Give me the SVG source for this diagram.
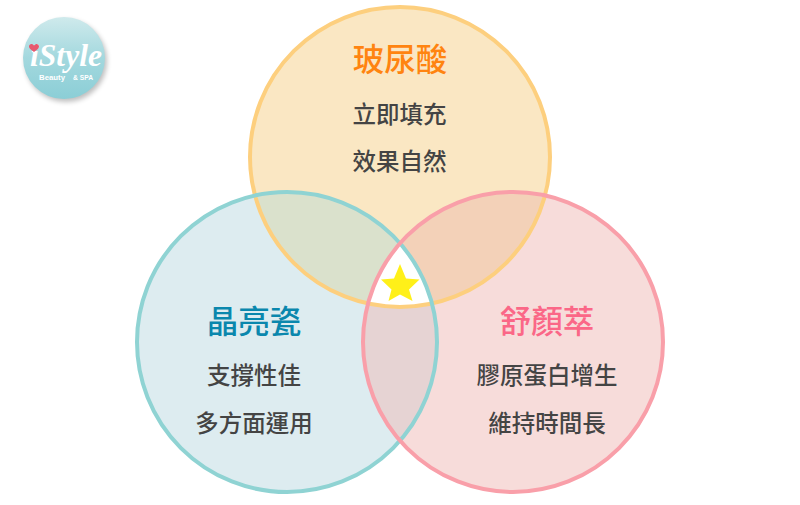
<svg xmlns="http://www.w3.org/2000/svg" width="800" height="505" viewBox="0 0 800 505">
<style>
text{font-family:"Noto Sans CJK TC","Noto Sans CJK SC",sans-serif;text-anchor:middle;font-weight:500}
.t{font-size:31.500px}
.b{font-size:23.500px;fill:#444}
.ring{fill:none;stroke-width:4}
.logo-s{font-family:"Liberation Sans",sans-serif;font-weight:bold;fill:#fff}
</style>
<defs>
<circle id="cT" cx="400" cy="157" r="150"/>
<circle id="cL" cx="287" cy="342" r="150"/>
<circle id="cR" cx="513" cy="342" r="150"/>
<clipPath id="inT"><use href="#cT"/></clipPath>
<clipPath id="inL"><use href="#cL"/></clipPath>
<linearGradient id="lg" x1="0" y1="0" x2="0" y2="1">
<stop offset="0" stop-color="#cfeaec"/><stop offset="0.5" stop-color="#a3d8de"/><stop offset="1" stop-color="#8bced6"/>
</linearGradient>
<filter id="sh" x="-20%" y="-20%" width="150%" height="150%"><feGaussianBlur stdDeviation="2.500"/></filter>
</defs>
<rect width="800" height="505" fill="#fff"/>
<g id="venn-fills">
<use href="#cT" fill="#fae7c3"/>
<use href="#cL" fill="#ddecf0"/>
<use href="#cR" fill="#f7dcda"/>
<g clip-path="url(#inT)"><use href="#cL" fill="#dae1cc"/><use href="#cR" fill="#f3d1b8"/></g>
<g clip-path="url(#inL)"><use href="#cR" fill="#e6d3d3"/></g>
<g clip-path="url(#inT)"><g clip-path="url(#inL)"><use href="#cR" fill="#fff"/></g></g>
</g>
<g id="node-hyaluronic">
<use href="#cT" class="ring" stroke="#fdcf7e"/>
<text class="t" x="400" y="71" fill="#ff8410">玻尿酸</text>
<text class="b" x="399.500" y="123">立即填充</text>
<text class="b" x="399.500" y="170">效果自然</text>
</g>
<g id="node-porcelain">
<use href="#cL" class="ring" stroke="#8fd3d3"/>
<text class="t" x="254" y="333" fill="#0a87ad">晶亮瓷</text>
<text class="b" x="254" y="384">支撐性佳</text>
<text class="b" x="254" y="432">多方面運用</text>
</g>
<g id="node-sculptra">
<use href="#cR" class="ring" stroke="#f99fa9"/>
<text class="t" x="547" y="333" fill="#fb6787">舒顏萃</text>
<text class="b" x="547" y="384">膠原蛋白增生</text>
<text class="b" x="547" y="432">維持時間長</text>
</g>
<g id="star">
<polygon points="400,264 406,278.500 419.500,279.500 409,289.500 412.500,301 400,294.500 388.500,301 391.500,289.500 381,279.500 394,278.500" fill="#fff019"/>
</g>
<g id="logo">
<circle cx="66" cy="61" r="41" fill="#000" opacity="0.25" filter="url(#sh)"/>
<circle cx="64" cy="58" r="41" fill="url(#lg)"/>
<text x="66" y="66" font-size="32" textLength="72" lengthAdjust="spacingAndGlyphs" fill="#fff" style="font-family:'Liberation Serif',serif;font-weight:bold;font-style:italic">iStyle</text>
<path d="M34 52 C30.500 49.500 29 48 29 46.500 C29 43.500 32.500 43 34 45.500 C35.500 43 39 43.500 39 46.500 C39 48 37.500 49.500 34 52Z" fill="#e8586e"/>
<text class="logo-s" x="52" y="79.500" font-size="7" textLength="26" lengthAdjust="spacingAndGlyphs">Beauty</text>
<text class="logo-s" x="83" y="79.500" font-size="7" textLength="20" lengthAdjust="spacingAndGlyphs">&amp; SPA</text>
</g>
</svg>
